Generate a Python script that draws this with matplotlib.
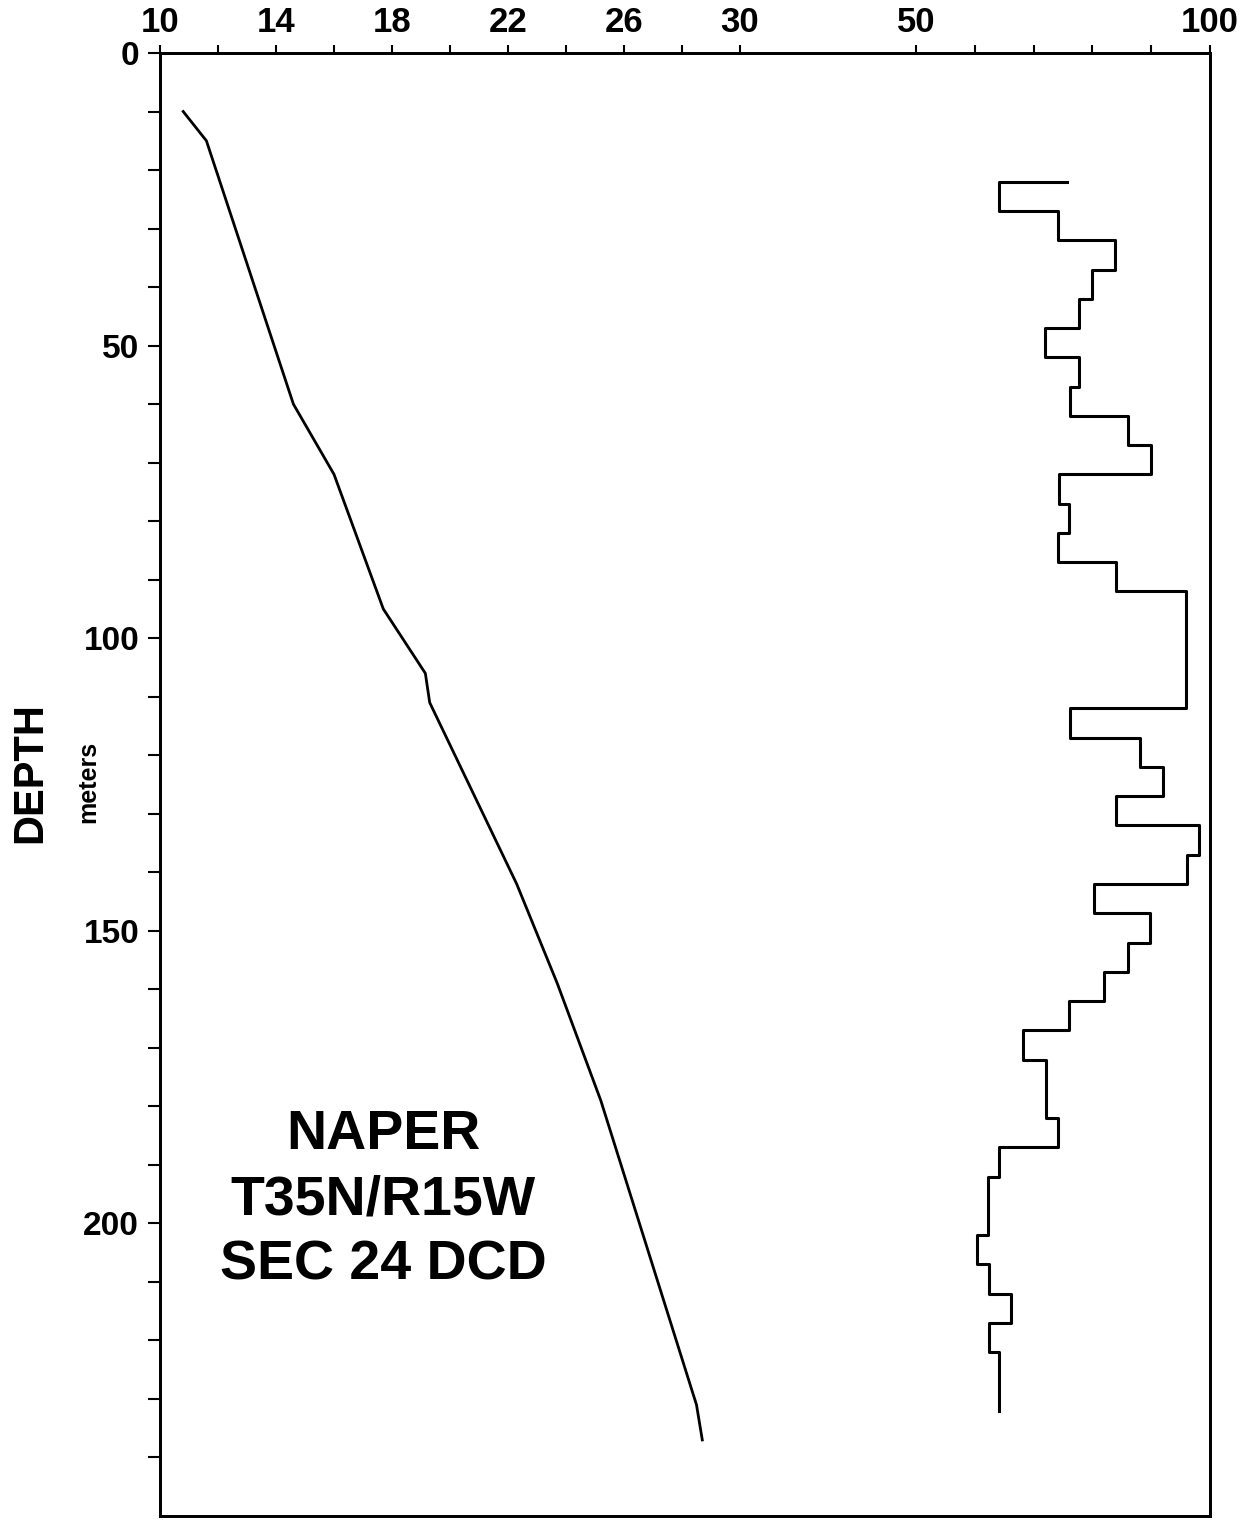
import numpy as np
import matplotlib
matplotlib.use("Agg")
import matplotlib.pyplot as plt

plt.rcParams['font.family'] = ['Liberation Sans', 'DejaVu Sans']
plt.rcParams['font.weight'] = 'bold'

# temperature profile (deg C vs depth m)
temp_depth = [10, 15, 60, 72, 95, 106, 111, 142, 159, 179, 231, 237]
temp_vals = [10.8, 11.6, 14.6, 16.0, 17.7, 19.15, 19.3, 22.3, 23.7, 25.2, 28.5, 28.7]

# interval gradient (5 m intervals)
grad_edges = [22, 27, 32, 37, 42, 47, 52, 57, 62, 67, 72, 77, 82, 87, 92,
              97, 102, 107, 112, 117, 122, 127, 132, 137, 142, 147, 152, 157,
              162, 167, 172, 177, 182, 187, 192, 197, 202, 207, 212, 217, 222,
              227, 232]
grad_vals = [64.2, 74.2, 83.8, 80.0, 77.8, 71.9, 77.7, 76.2, 86.0, 90.0,
             74.3, 76.0, 74.2, 84.1, 96.0, 96.0, 96.0, 96.0, 76.2, 88.1,
             92.0, 84.1, 98.1, 96.1, 80.2, 89.8, 86.0, 82.0, 76.1, 68.2,
             72.1, 72.1, 74.1, 64.2, 62.3, 62.3, 60.4, 62.4, 66.2, 62.4,
             64.1, 64.1]
grad_start = 75.7

temp_ticks = [10, 12, 14, 16, 18, 20, 22, 24, 26, 28, 30]
temp_labels = ['10', '', '14', '', '18', '', '22', '', '26', '', '30']
grad_ticks = [50, 60, 70, 80, 90, 100]
grad_labels = ['50', '', '', '', '', '100']
depth_ticks = list(range(0, 250, 10))
depth_labels = [str(d) if d % 50 == 0 else '' for d in depth_ticks]

W, H = 1253, 1526
fig = plt.figure(figsize=(W / 100, H / 100), dpi=100)
ax = fig.add_axes([160 / W, 10 / H, 1050 / W, 1463 / H])
ax2 = ax.twiny()

#TEMPERATURE
ax.plot(temp_vals, temp_depth, color='black', lw=2.0)
ax.set_xlim(10, 10 + 1050 / 29.0)
ax.set_ylim(250, 0)
ax.xaxis.set_ticks_position('top')
ax.xaxis.set_label_position('top')
ax.set_xticks(temp_ticks)
ax.set_xticklabels(temp_labels)
ax.set_yticks(depth_ticks)
ax.set_yticklabels(depth_labels)
ax.tick_params(axis='x', direction='out', length=6, width=1.5, pad=4, labelsize=25,
               top=True, bottom=False, labeltop=True, labelbottom=False)
ax.tick_params(axis='y', direction='out', length=9, width=1.5, pad=6, labelsize=24)
for s in ax.spines.values():
    s.set_linewidth(2.0)

#GRADIENT STEPS
xs = [grad_start] + list(np.repeat(grad_vals, 2))
ys = [grad_edges[0]] + list(np.repeat(grad_edges, 2)[1:-1])
ax2.plot(xs, ys, color='black', lw=2.2)
ax2.set_xlim(100 - 1050 / 5.882, 100)
ax2.set_ylim(250, 0)
ax2.set_xticks(grad_ticks)
ax2.set_xticklabels(grad_labels)
ax2.tick_params(axis='x', direction='out', length=6, width=1.5, pad=4, labelsize=25)
for s in ax2.spines.values():
    s.set_linewidth(2.0)

#LABELS
fig.text(30 / W, 1 - 773 / H, 'DEPTH', rotation=90, ha='center', va='center',
         fontsize=30, fontweight='bold')
fig.text(88 / W, 1 - 782 / H, 'meters', rotation=90, ha='center', va='center',
         fontsize=18, fontweight='bold')
for txt, yy in [('NAPER', 1135), ('T35N/R15W', 1200), ('SEC 24 DCD', 1265)]:
    fig.text(383 / W, 1 - yy / H, txt, ha='center', va='center',
             fontsize=40, fontweight='bold')

fig.savefig('out.png', dpi=100)
